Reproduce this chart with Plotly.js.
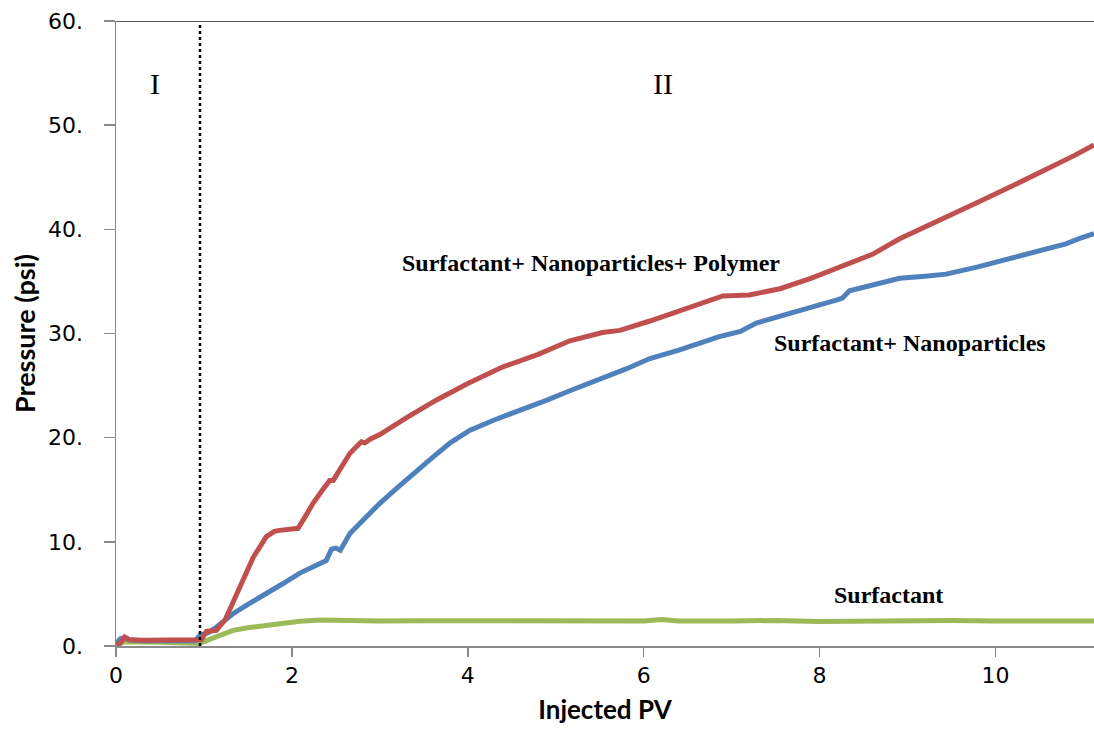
<!DOCTYPE html>
<html>
<head>
<meta charset="utf-8">
<script src="https://cdn.plot.ly/plotly-3.0.1.min.js"></script>
<style>html,body{margin:0;padding:0;background:#fff}#chart{width:1094px;height:738px}</style>
</head>
<body>
<div id="chart"></div>
<script>
// Surfactant + Nanoparticles + Polymer (red)
const pvSNP = [0, 0.05, 0.1, 0.15, 0.3, 0.6, 0.9, 0.97, 1.03, 1.14, 1.24, 1.32, 1.41, 1.56, 1.71, 1.8, 1.86, 1.95, 2.07, 2.15, 2.24, 2.35, 2.43, 2.47, 2.56, 2.66, 2.79, 2.83, 2.9, 3.0, 3.3, 3.64, 4.0, 4.4, 4.8, 5.16, 5.53, 5.73, 6.07, 6.5, 6.9, 7.2, 7.55, 7.9, 8.23, 8.6, 8.91, 9.2, 9.44, 9.8, 10.2, 10.6, 10.9, 11.12];
const pSNP = [0.1, 0.3, 0.85, 0.6, 0.55, 0.55, 0.55, 0.6, 1.4, 1.5, 2.5, 4.0, 5.7, 8.5, 10.5, 11.0, 11.1, 11.2, 11.3, 12.4, 13.7, 15.0, 15.9, 15.9, 17.2, 18.5, 19.6, 19.5, 19.9, 20.3, 21.9, 23.6, 25.2, 26.8, 28.0, 29.3, 30.1, 30.3, 31.2, 32.4, 33.6, 33.7, 34.3, 35.3, 36.4, 37.6, 39.1, 40.2, 41.2, 42.6, 44.2, 45.8, 47.1, 48.1];

// Surfactant + Nanoparticles (blue)
const pvSN = [0, 0.05, 0.1, 0.15, 0.3, 0.6, 0.9, 0.95, 1.05, 1.14, 1.25, 1.33, 1.5, 1.71, 1.9, 2.09, 2.25, 2.39, 2.45, 2.5, 2.55, 2.66, 2.8, 3.0, 3.2, 3.4, 3.6, 3.8, 4.02, 4.3, 4.59, 4.9, 5.16, 5.5, 5.8, 6.07, 6.4, 6.86, 7.1, 7.28, 7.55, 7.9, 8.19, 8.26, 8.34, 8.6, 8.91, 9.2, 9.44, 9.8, 10.2, 10.5, 10.8, 10.95, 11.12];
const pSN = [0.2, 0.7, 0.8, 0.6, 0.5, 0.5, 0.5, 1.0, 1.3, 1.8, 2.5, 3.1, 4.0, 5.0, 6.0, 7.0, 7.7, 8.2, 9.3, 9.4, 9.2, 10.8, 12.0, 13.7, 15.2, 16.7, 18.1, 19.5, 20.7, 21.7, 22.6, 23.6, 24.5, 25.6, 26.6, 27.6, 28.4, 29.7, 30.2, 31.0, 31.6, 32.5, 33.2, 33.4, 34.1, 34.7, 35.3, 35.5, 35.7, 36.4, 37.3, 38.0, 38.6, 39.1, 39.6];

// Surfactant (green)
const pvS = [0, 0.1, 0.5, 0.95, 1.1, 1.33, 1.5, 1.7, 1.9, 2.09, 2.32, 2.6, 3.0, 3.5, 4.0, 4.5, 5.0, 5.3, 5.5, 5.8, 6.0, 6.2, 6.4, 7.0, 7.5, 8.0, 8.5, 9.0, 9.5, 10.0, 10.5, 11.12];
const pS = [0.1, 0.4, 0.35, 0.25, 0.75, 1.5, 1.75, 2.0, 2.2, 2.37, 2.5, 2.45, 2.4, 2.42, 2.4, 2.4, 2.45, 2.35, 2.45, 2.35, 2.4, 2.55, 2.4, 2.4, 2.45, 2.35, 2.4, 2.4, 2.45, 2.4, 2.4, 2.4];

const yTickVals = [0, 10, 20, 30, 40, 50, 60];
const yTickText = ['0.', '10.', '20.', '30.', '40.', '50.', '60.'];
const xTickVals = [0, 2, 4, 6, 8, 10];
const xTickText = ['0', '2', '4', '6', '8', '10'];

const boundaryPV = 0.955;
const regionLabels = ['I', 'II'];
const regionX = [0.44, 6.22];
const regionY = 54;
const seriesLabels = ['Surfactant+ Nanoparticles+ Polymer', 'Surfactant+ Nanoparticles', 'Surfactant'];
const seriesLabelX = [5.4, 9.03, 8.78];
const seriesLabelY = [36.8, 29.1, 4.9];

const traces = [
  {x: pvS, y: pS, mode: 'lines', name: 'Surfactant', line: {color: '#9BBB59', width: 5}},
  {x: pvSN, y: pSN, mode: 'lines', name: 'Surfactant+ Nanoparticles', line: {color: '#4F81BD', width: 5}},
  {x: pvSNP, y: pSNP, mode: 'lines', name: 'Surfactant+ Nanoparticles+ Polymer', line: {color: '#C0504D', width: 5}}
];

const annotations = [];
regionLabels.forEach((t, i) => annotations.push({
  x: regionX[i], y: regionY, xref: 'x', yref: 'y', text: t, showarrow: false,
  font: {family: 'Liberation Serif, Times New Roman, serif', size: 30, color: '#000'}
}));
seriesLabels.forEach((t, i) => annotations.push({
  x: seriesLabelX[i], y: seriesLabelY[i], xref: 'x', yref: 'y', text: '<b>' + t + '</b>', showarrow: false,
  font: {family: 'Liberation Serif, Times New Roman, serif', size: 24, color: '#000'}
}));

const layout = {
  width: 1094, height: 738,
  margin: {l: 116, r: 0, t: 21, b: 92, pad: 0},
  paper_bgcolor: '#fff', plot_bgcolor: '#fff',
  showlegend: false,
  xaxis: {
    range: [0, 11.12], tickvals: xTickVals, ticktext: xTickText,
    showgrid: false, zeroline: false, showline: true, linecolor: '#8a8a8a', linewidth: 1.5,
    ticks: 'outside', ticklen: 9, tickwidth: 1.5, tickcolor: '#8a8a8a',
    ticklabelstandoff: 0,
    tickfont: {family: 'DejaVu Sans, Verdana, sans-serif', size: 22, color: '#000'},
    title: {text: '<b>Injected PV</b>', standoff: 14, font: {family: 'Lato, Calibri, sans-serif', size: 26, color: '#000'}}
  },
  yaxis: {
    range: [0, 60], tickvals: yTickVals, ticktext: yTickText,
    showgrid: false, zeroline: false, showline: true, linecolor: '#8a8a8a', linewidth: 1.5,
    ticks: 'outside', ticklen: 11, tickwidth: 1.5, tickcolor: '#8a8a8a',
    ticklabelstandoff: 16,
    tickfont: {family: 'DejaVu Sans, Verdana, sans-serif', size: 22, color: '#000'},
    title: {text: '<b>Pressure (psi)</b>', standoff: 4, font: {family: 'Lato, Calibri, sans-serif', size: 27, color: '#000'}}
  },
  shapes: [
    {type: 'line', xref: 'x', yref: 'y', x0: boundaryPV, x1: boundaryPV, y0: 0, y1: 60,
     line: {color: '#000', width: 2.5, dash: 'dot'}},
    {type: 'line', xref: 'paper', yref: 'y', x0: 0, x1: 1, y0: 60, y1: 60,
     line: {color: '#5a5a5a', width: 2}}
  ],
  annotations: annotations
};

Plotly.newPlot('chart', traces, layout, {staticPlot: true, displayModeBar: false});
</script>
</body>
</html>
